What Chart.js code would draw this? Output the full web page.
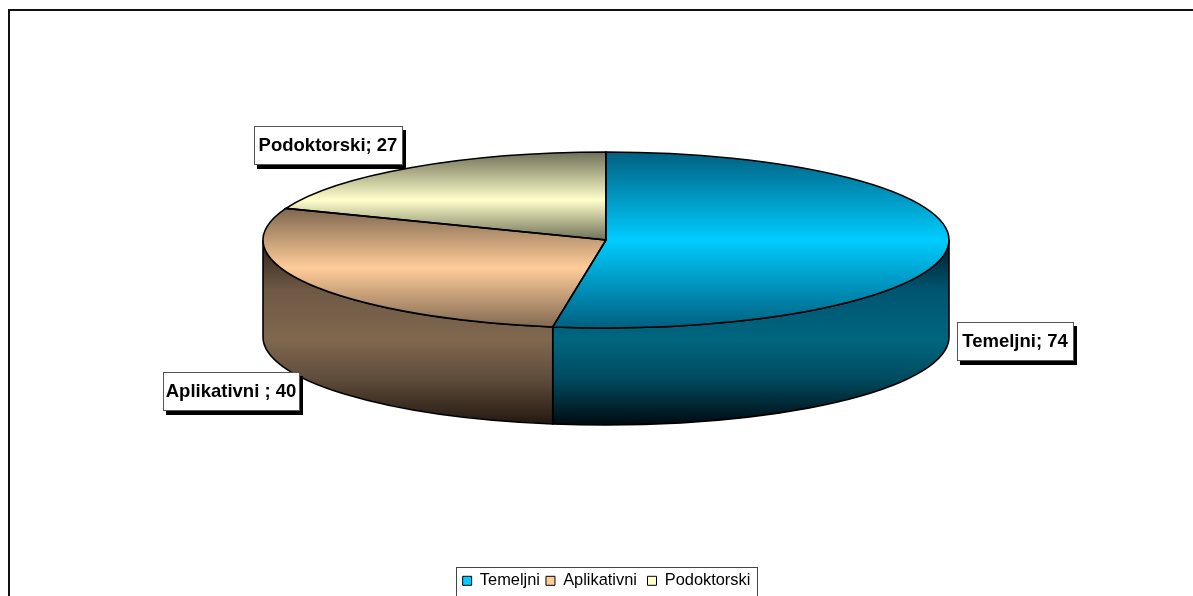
<!DOCTYPE html>
<html>
<head>
<meta charset="utf-8">
<style>
  html, body { margin: 0; padding: 0; background: #fff; overflow: hidden; }
  canvas { display: block; }
</style>
<script src="https://cdn.jsdelivr.net/npm/chart.js@4/dist/chart.umd.js"></script>
</head>
<body>
<canvas id="pie3d" width="1193" height="596"></canvas>
<script>
const categories = ['Temeljni', 'Aplikativni ', 'Podoktorski'];
const values = [74, 40, 27];
const swatchColors = ['#00CCFF', '#FFCC99', '#FFFFCC'];

// top face: [pixel y, colour] stops for each slice
const topStops = [
  [[152, '#006080'], [240, '#00CCFF'], [328, '#006080']],
  [[209, '#806850'], [268, '#FFCC99'], [328, '#806850']],
  [[152, '#707058'], [200, '#FFFFCC'], [240, '#707058']]
];
// side wall
const sideStops = [
  [[240, '#001a24'], [290, '#005570'], [340, '#006680'], [380, '#004a5e'], [424, '#000c12']],
  [[240, '#2e2218'], [290, '#6e5944'], [340, '#806850'], [380, '#5e4b3a'], [424, '#241910']],
  [[240, '#808060'], [424, '#000000']]
];

// where the flattened pie sits on the page
const CX = 606, CY = 240, RX = 343, RY = 88, DEPTH = 97;
const labelBoxes = [
  { x: 957, y: 322, w: 116, h: 38 },
  { x: 163, y: 372, w: 136, h: 38 },
  { x: 254, y: 126, w: 148, h: 38 }
];

function makeGradient(ctx, stops, toY) {
  const first = stops[0][0], last = stops[stops.length - 1][0];
  const g = ctx.createLinearGradient(0, toY(first), 0, toY(last));
  stops.forEach(s => g.addColorStop((s[0] - first) / (last - first), s[1]));
  return g;
}

const flatPie = {
  id: 'flatPie',
  beforeDraw(chart) {
    const ctx = chart.ctx;
    ctx.save();
    // frame, only top and left are inside the picture
    ctx.strokeStyle = '#111';
    ctx.lineWidth = 2;
    ctx.beginPath();
    ctx.moveTo(9, 596);
    ctx.lineTo(9, 10);
    ctx.lineTo(1193, 10);
    ctx.stroke();
    // legend box
    ctx.strokeStyle = '#444';
    ctx.lineWidth = 1;
    ctx.strokeRect(456.5, 567.5, 301, 40);
    ctx.restore();
  },
  beforeDatasetDraw(chart, args) {
    const ctx = chart.ctx;
    const arcs = args.meta.data;
    // side walls first, only the part facing us (0..PI)
    arcs.forEach((arc, i) => {
      const a0 = Math.max(arc.startAngle, 0);
      const a1 = Math.min(arc.endAngle, Math.PI);
      if (a1 <= a0) return;
      ctx.save();
      ctx.beginPath();
      ctx.ellipse(CX, CY, RX, RY, 0, a0, a1);
      ctx.ellipse(CX, CY + DEPTH, RX, RY, 0, a1, a0, true);
      ctx.closePath();
      ctx.fillStyle = makeGradient(ctx, sideStops[i], y => y);
      ctx.fill();
      ctx.strokeStyle = '#000';
      ctx.lineWidth = 1.6;
      ctx.stroke();
      ctx.restore();
    });
    // squash the round pie into the ellipse
    const arc = arcs[0];
    ctx.save();
    ctx.translate(CX, CY);
    ctx.scale(RX / arc.outerRadius, RY / arc.outerRadius);
    ctx.translate(-arc.x, -arc.y);
  },
  afterDatasetDraw(chart, args) {
    const ctx = chart.ctx;
    ctx.restore();
    // outlines drawn unscaled so the line stays even
    args.meta.data.forEach(arc => {
      ctx.save();
      ctx.beginPath();
      ctx.moveTo(CX, CY);
      ctx.ellipse(CX, CY, RX, RY, 0, arc.startAngle, arc.endAngle);
      ctx.closePath();
      ctx.strokeStyle = '#000';
      ctx.lineWidth = 1.6;
      ctx.stroke();
      ctx.restore();
    });
  },
  afterDatasetsDraw(chart) {
    const ctx = chart.ctx;
    ctx.save();
    ctx.font = 'bold 18.5px "Liberation Sans", Arial, sans-serif';
    ctx.textAlign = 'center';
    ctx.textBaseline = 'middle';
    labelBoxes.forEach((b, i) => {
      ctx.fillStyle = '#000';
      ctx.fillRect(b.x + 3, b.y + 4, b.w + 1, b.h + 1);
      ctx.fillStyle = '#fff';
      ctx.fillRect(b.x, b.y, b.w, b.h);
      ctx.strokeStyle = '#555';
      ctx.lineWidth = 1;
      ctx.strokeRect(b.x + 0.5, b.y + 0.5, b.w, b.h);
      ctx.fillStyle = '#000';
      ctx.fillText(categories[i] + '; ' + values[i], b.x + b.w / 2, b.y + b.h / 2 + 1);
    });
    ctx.restore();
  }
};

new Chart(document.getElementById('pie3d'), {
  type: 'pie',
  data: {
    labels: categories,
    datasets: [{
      data: values,
      clip: false,
      borderWidth: 0,
      backgroundColor(c) {
        const chart = c.chart, area = chart.chartArea;
        if (!area || c.dataIndex === undefined) return swatchColors[c.dataIndex || 0];
        const R = Math.min(area.width, area.height) / 2;
        const midY = (area.top + area.bottom) / 2;
        // gradient is read in the unsquashed pie's coordinates
        return makeGradient(chart.ctx, topStops[c.dataIndex], y => midY + (y - CY) * R / RY);
      }
    }]
  },
  options: {
    responsive: false,
    animation: false,
    layout: { padding: { left: 20, bottom: -3 } },
    plugins: {
      tooltip: { enabled: false },
      legend: {
        position: 'bottom',
        fullSize: false,
        labels: {
          boxWidth: 9,
          boxHeight: 9,
          padding: 6,
          color: '#000',
          font: { family: '"Liberation Sans", Arial, sans-serif', size: 16.4 },
          generateLabels() {
            return categories.map((name, i) => ({
              text: name,
              fillStyle: swatchColors[i],
              strokeStyle: '#000',
              lineWidth: 1,
              index: i
            }));
          }
        }
      }
    }
  },
  plugins: [flatPie]
});
</script>
</body>
</html>
